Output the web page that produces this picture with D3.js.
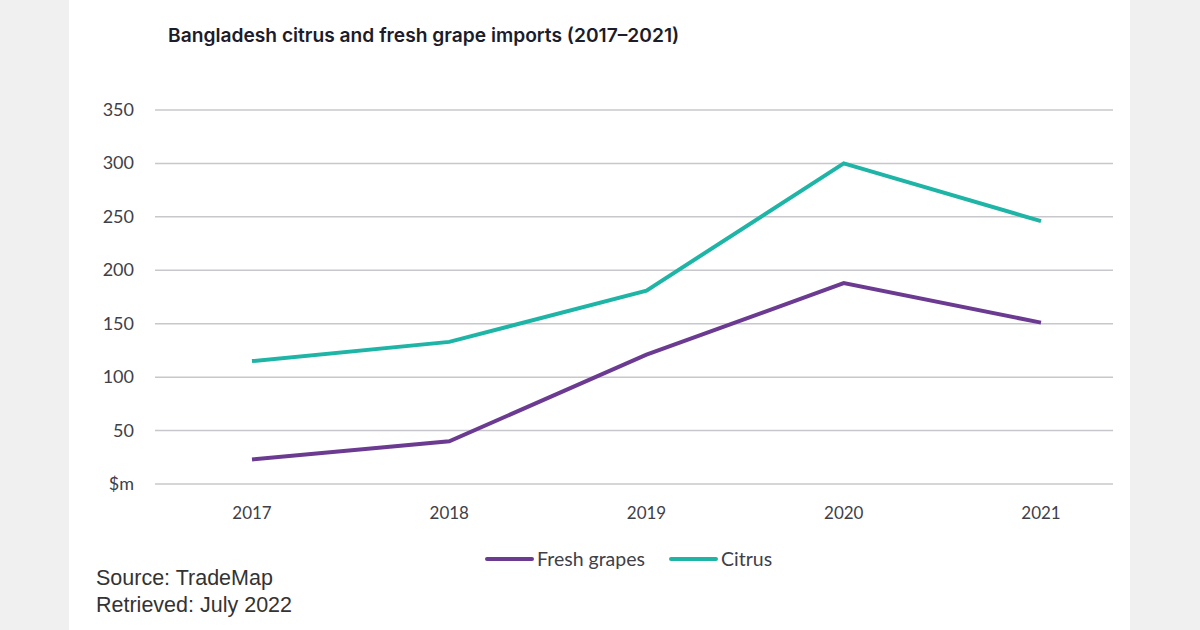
<!DOCTYPE html>
<html>
<head>
<script src="https://cdnjs.cloudflare.com/ajax/libs/d3/7.8.5/d3.min.js"></script>
<style>
  body { margin: 0; background: #f0f0f0; }
</style>
</head>
<body>
<script>
    var years = ['2017', '2018', '2019', '2020', '2021']
    var grapes = [23, 40, 121, 188, 151]
    var citrus = [115, 133, 181, 300, 246]
    var yTicks = [0, 50, 100, 150, 200, 250, 300, 350]

    var svg = d3.select('body').append('svg')
        .attr('width', 1200)
        .attr('height', 630)

    // white panel
    svg.append('rect')
        .attr('x', 69).attr('y', 0)
        .attr('width', 1061).attr('height', 630)
        .attr('fill', '#ffffff')

    svg.append('text')
        .attr('x', 168).attr('y', 42)
        .style('font-family', 'Inter')
        .style('font-weight', 600)
        .style('font-size', '19.2px')
        .attr('fill', '#1c1c2a')
        .text('Bangladesh citrus and fresh grape imports (2017\u20132021)')

    var x = d3.scalePoint().domain(years).range([252, 1041])
    var y = d3.scaleLinear().domain([0, 350]).range([484, 110])

    // gridlines
    svg.append('g')
        .selectAll('line')
        .data(yTicks)
        .enter().append('line')
        .attr('x1', 155).attr('x2', 1113)
        .attr('y1', function(d) { return y(d) })
        .attr('y2', function(d) { return y(d) })
        .attr('stroke', '#c8c8cc')
        .attr('stroke-width', 1.5)

    // y labels
    svg.append('g')
        .selectAll('text')
        .data(yTicks)
        .enter().append('text')
        .attr('x', 134)
        .attr('y', function(d) { return y(d) + 6 })
        .attr('text-anchor', 'end')
        .style('font-family', 'Lato')
        .style('font-size', '18px')
        .attr('fill', '#404048')
        .text(function(d) { return d === 0 ? '$m' : d })

    // x labels
    svg.append('g')
        .selectAll('text')
        .data(years)
        .enter().append('text')
        .attr('x', function(d) { return x(d) })
        .attr('y', 519)
        .attr('text-anchor', 'middle')
        .style('font-family', 'Lato')
        .style('font-size', '17px')
        .attr('fill', '#404048')
        .text(function(d) { return d })

    var series = [
        { name: 'Fresh grapes', values: grapes, color: '#6b3a91' },
        { name: 'Citrus', values: citrus, color: '#1fb5a6' }
    ]

    var line = d3.line()
        .x(function(d, i) { return x(years[i]) })
        .y(function(d) { return y(d) })

    series.forEach(function(s) {
        svg.append('path')
            .datum(s.values)
            .attr('d', line)
            .attr('fill', 'none')
            .attr('stroke', s.color)
            .attr('stroke-width', 4)
            .attr('stroke-linejoin', 'miter')
    })

    // legend
    var legendX = [487, 671]
    series.forEach(function(s, i) {
        svg.append('line')
            .attr('x1', legendX[i]).attr('x2', legendX[i] + 45)
            .attr('y1', 559).attr('y2', 559)
            .attr('stroke', s.color)
            .attr('stroke-width', 4)
            .attr('stroke-linecap', 'round')
        svg.append('text')
            .attr('x', legendX[i] + 50).attr('y', 566)
            .style('font-family', 'Lato')
            .style('font-size', '19.5px')
            .attr('fill', '#404048')
            .text(s.name)
    })

    svg.append('text')
        .attr('x', 96).attr('y', 585)
        .style('font-family', 'Liberation Sans')
        .style('font-size', '21.5px')
        .attr('fill', '#333')
        .text('Source: TradeMap')
    svg.append('text')
        .attr('x', 96).attr('y', 612)
        .style('font-family', 'Liberation Sans')
        .style('font-size', '21.5px')
        .attr('fill', '#333')
        .text('Retrieved: July 2022')
</script>
</body>
</html>
